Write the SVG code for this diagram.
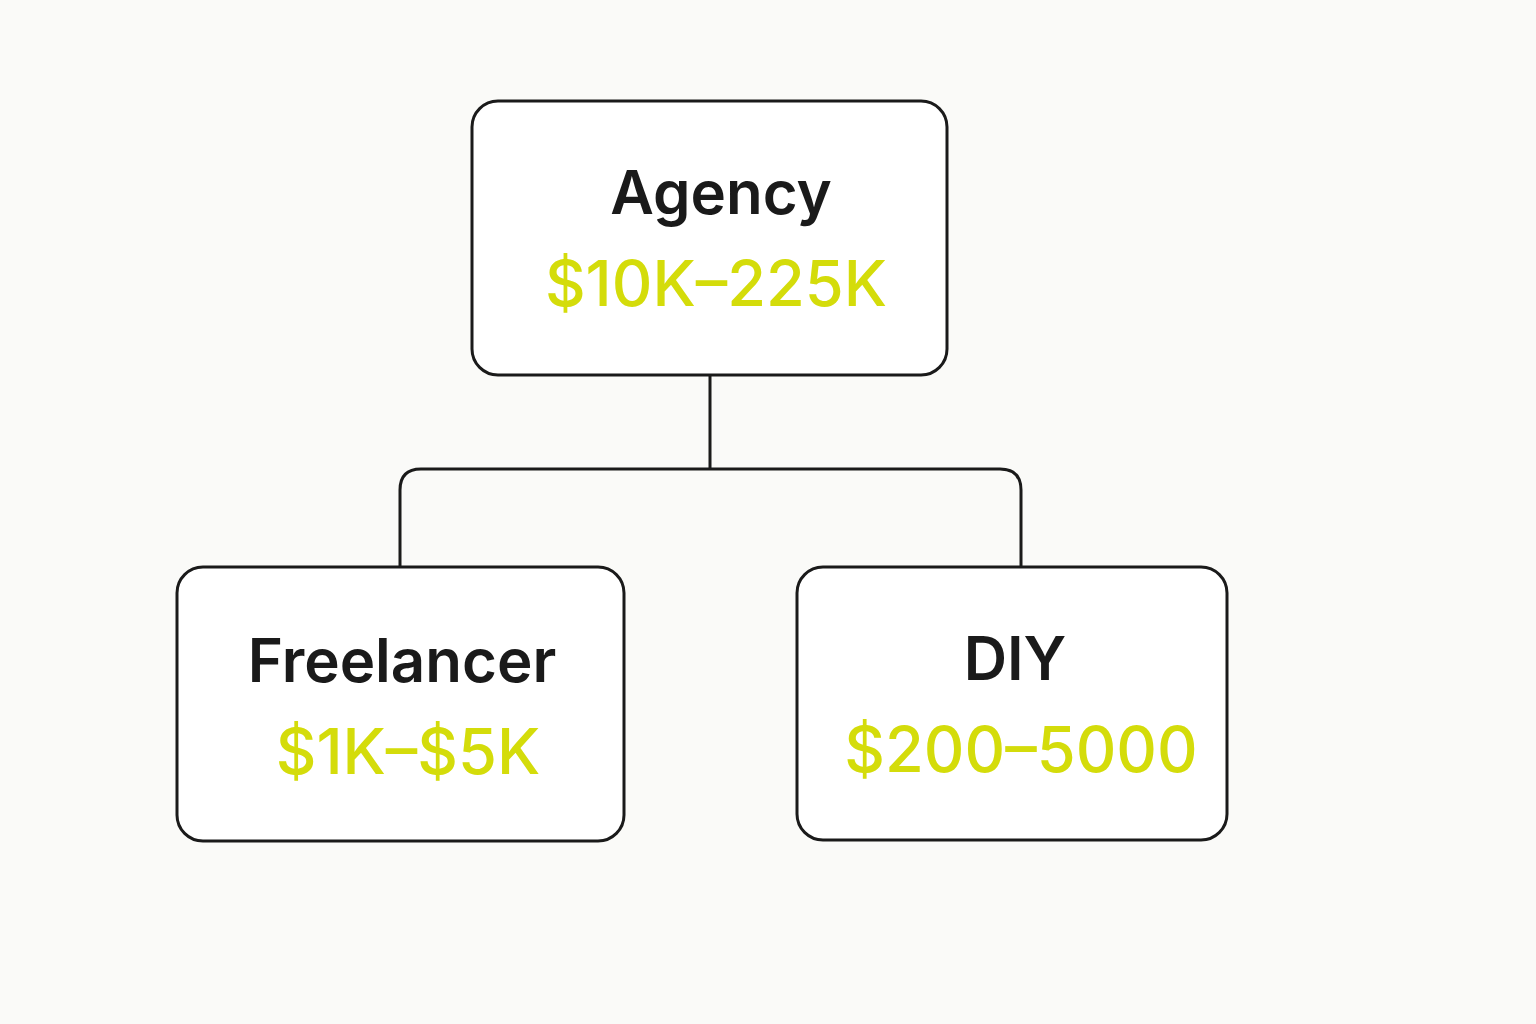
<svg xmlns="http://www.w3.org/2000/svg" width="1536" height="1024" viewBox="0 0 1536 1024">
<style>
.box{fill:#ffffff;stroke:#1a1a1a;stroke-width:3}
.title{font-family:Inter,"Liberation Sans",sans-serif;font-weight:600;font-size:60px;fill:#1a1a1a;text-anchor:middle}
.price{font-family:Inter,"Liberation Sans",sans-serif;font-weight:500;font-size:63px;fill:#d4dc0a;text-anchor:middle}
.conn{fill:none;stroke:#1a1a1a;stroke-width:3}
</style>
<rect width="1536" height="1024" fill="#fafaf8"/>
<g id="connectors">
<path class="conn" d="M710 375 V469"/>
<path class="conn" d="M400 567 V490 Q400 469 421 469 H1000 Q1021 469 1021 490 V567"/>
</g>
<g id="agency">
<rect class="box" x="472" y="101" width="475" height="274" rx="26"/>
<text class="title" x="721" y="214">Agency</text>
<text class="price" x="716" y="306">$10K–225K</text>
</g>
<g id="freelancer">
<rect class="box" x="177" y="567" width="447" height="274" rx="26"/>
<text class="title" x="402" y="682">Freelancer</text>
<text class="price" x="408" y="774">$1K–$5K</text>
</g>
<g id="diy">
<rect class="box" x="797" y="567" width="430" height="273" rx="26"/>
<text class="title" x="1015" y="680">DIY</text>
<text class="price" x="1021" y="772">$200–5000</text>
</g>
</svg>
